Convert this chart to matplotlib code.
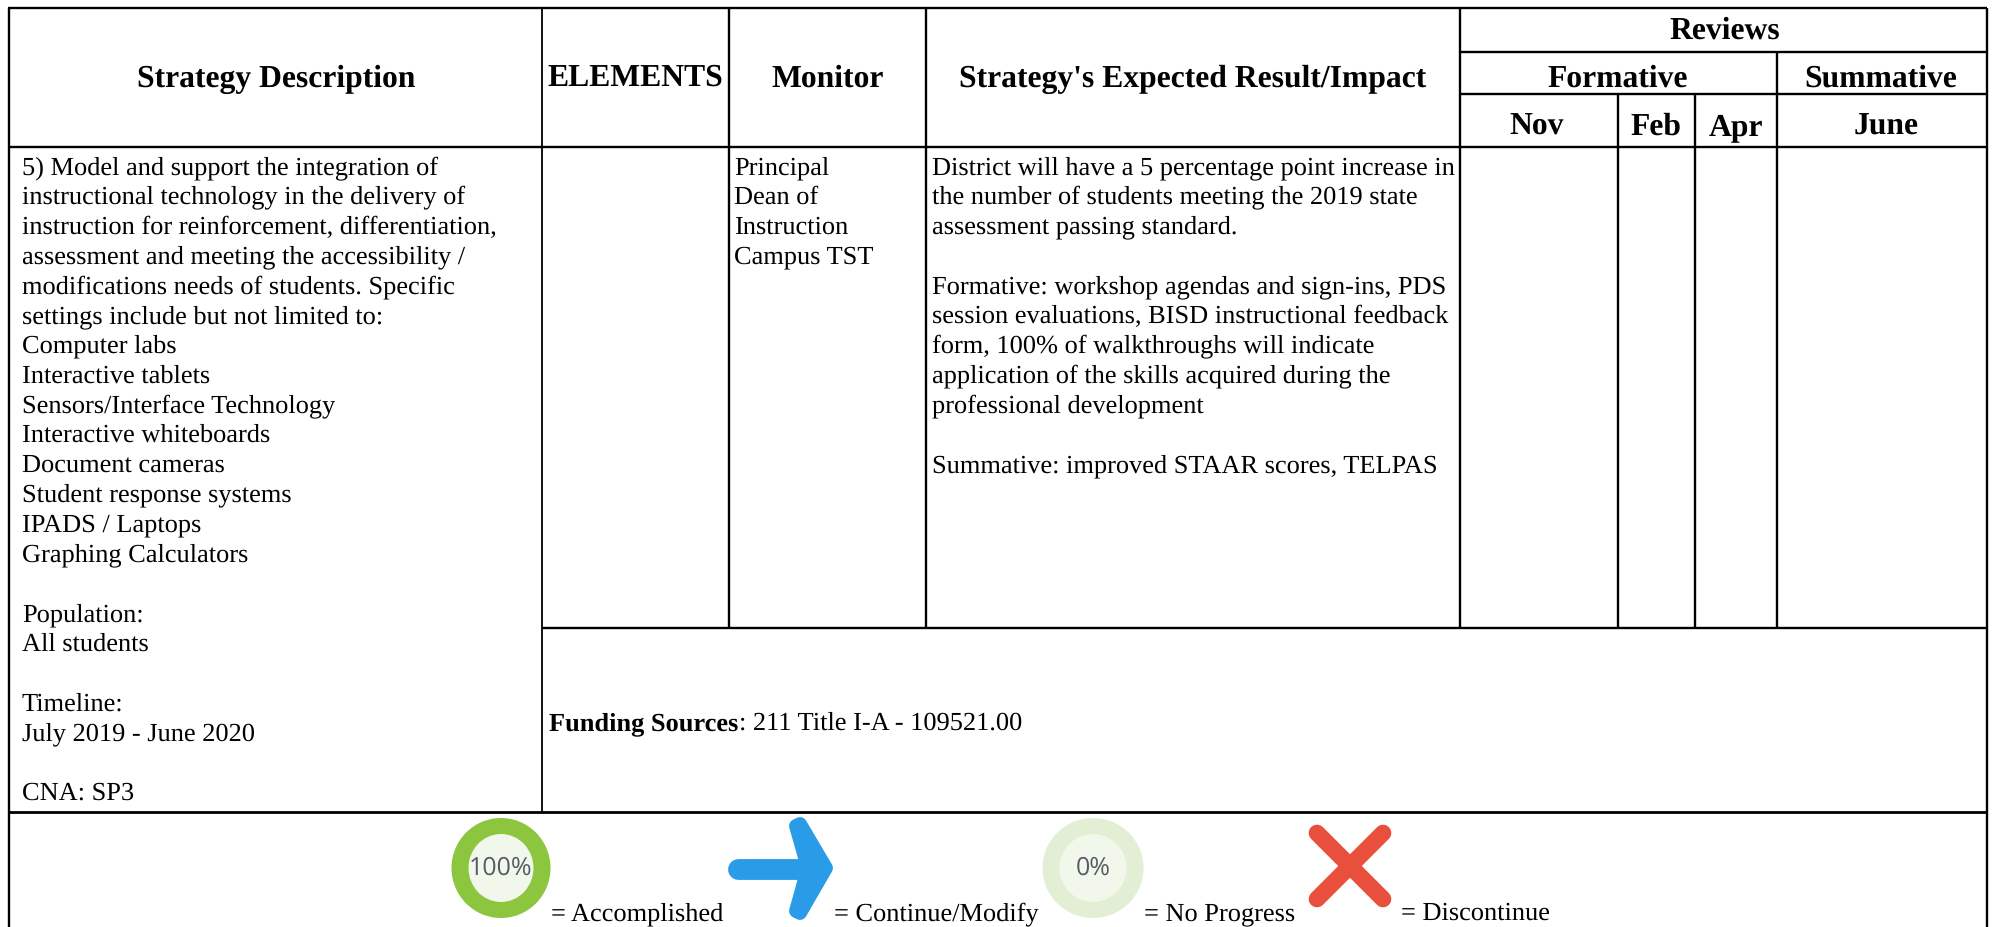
import matplotlib
matplotlib.use('Agg')
from matplotlib import pyplot as plt
from matplotlib.patches import Ellipse, Polygon

plt.rcParams['font.family'] = ['Liberation Serif', 'DejaVu Serif']
plt.rcParams['text.hinting'] = 'no_hinting'

W, H = 1995, 927

# table text
strategy_lines = [
    "5) Model and support the integration of",
    "instructional technology in the delivery of",
    "instruction for reinforcement, differentiation,",
    "assessment and meeting the accessibility /",
    "modifications needs of students. Specific",
    "settings include but not limited to:",
    "Computer labs",
    "Interactive tablets",
    "Sensors/Interface Technology",
    "Interactive whiteboards",
    "Document cameras",
    "Student response systems",
    "IPADS / Laptops",
    "Graphing Calculators",
    "",
    "Population:",
    "All students",
    "",
    "Timeline:",
    "July 2019 - June 2020",
    "",
    "CNA: SP3",
]
monitor_lines = ["Principal", "Dean of", "Instruction", "Campus TST"]
impact_lines = [
    "District will have a 5 percentage point increase in",
    "the number of students meeting the 2019 state",
    "assessment passing standard.",
    "",
    "Formative: workshop agendas and sign-ins, PDS",
    "session evaluations, BISD instructional feedback",
    "form, 100% of walkthroughs will indicate",
    "application of the skills acquired during the",
    "professional development",
    "",
    "Summative: improved STAAR scores, TELPAS",
]
legend_labels = ["= Accomplished", "= Continue/Modify", "= No Progress", "= Discontinue"]

fig = plt.figure(figsize=(W / 100, H / 100), dpi=100)
ax = fig.add_axes([0, 0, 1, 1])
ax.set_xlim(0, W)
ax.set_ylim(H, 0)
ax.axis('off')

LW = 1.7
BODY = 19
RIGHT = 1987


def hline(y, x0=8, x1=RIGHT, lw=LW):
    ax.plot([x0, x1], [y, y], color='black', lw=lw, solid_capstyle='butt')


def vline(x, y0, y1, lw=LW):
    ax.plot([x, x], [y0, y1], color='black', lw=lw, solid_capstyle='butt')


# grid
hline(8)
hline(52, 1460)
hline(94, 1460)
hline(147)
hline(628, 542)
hline(812, lw=2.0)
vline(9, 8, H)
vline(542, 8, 812, lw=1.3)
vline(729, 8, 628)
vline(926, 8, 628)
vline(1460, 8, 628)
vline(1618, 94, 628)
vline(1695, 94, 628)
vline(1777, 52, 628)
vline(RIGHT, 8, H)


def head(x, y, s, size=22.8):
    ax.text(x, y, s, fontsize=size, fontweight='bold', ha='center', va='baseline')


head(276, 87, "Strategy Description")
head(635, 86, "ELEMENTS")
head(828, 87, "Monitor")
head(1193, 87, "Strategy's Expected Result/Impact")
head(1725, 39, "Reviews")
head(1618, 87, "Formative")
head(1881, 87, "Summative")
head(1537, 135, "Nov")
head(1656, 135, "Feb")
head(1736, 135, "Apr")
head(1886, 135, "June")


def block(x, lines, y0=174, pitch=29.8):
    for i, s in enumerate(lines):
        if s:
            ax.text(x, y0 + i * pitch, s, fontsize=BODY, va='baseline')


block(22, strategy_lines)
block(734, monitor_lines)
block(932, impact_lines)

ax.text(549, 730, "Funding Sources", fontsize=BODY, fontweight='bold', va='baseline')
ax.text(739, 730, ": 211 Title I-A - 109521.00", fontsize=BODY, va='baseline')

# legend icons
ax.add_patch(Ellipse((501, 868), 99, 100, fc='#8cc63f', ec='none'))
ax.add_patch(Ellipse((501, 868), 65, 68, fc='#f1f7ea', ec='none'))
ax.text(501, 868, "100%", fontsize=18, color='#555b66', ha='center', va='center',
        family=['Open Sans', 'DejaVu Sans'])

ax.plot([738, 810], [868.5, 868.5], color='#2a9be6', lw=15, solid_capstyle='round')
ax.add_patch(Polygon([(796, 826), (800, 824), (826, 868), (800, 913), (796, 911), (808, 868)],
                     fc='#2a9be6', ec='#2a9be6', lw=10, joinstyle='round'))

ax.add_patch(Ellipse((1093, 868), 101, 100, fc='#e2efd4', ec='none'))
ax.add_patch(Ellipse((1093, 868), 67, 68, fc='#f1f7ea', ec='none'))
ax.text(1093, 868, "0%", fontsize=18, color='#555b66', ha='center', va='center',
        family=['Open Sans', 'DejaVu Sans'])

ax.plot([1317, 1383], [833, 899], color='#e94f3d', lw=12, solid_capstyle='round')
ax.plot([1383, 1317], [833, 899], color='#e94f3d', lw=12, solid_capstyle='round')

for x, s in zip([551, 834, 1144, 1401], legend_labels):
    ax.text(x, 920, s, fontsize=BODY, va='baseline')

fig.savefig('out.png', dpi=100)
